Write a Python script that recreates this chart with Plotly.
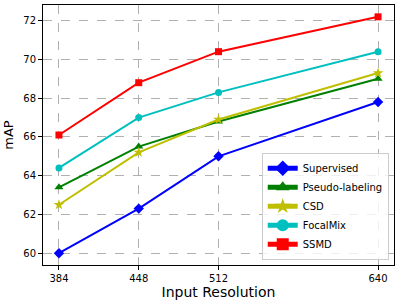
import plotly.graph_objects as go

resolutions = [384, 448, 512, 640]
series_names = ["Supervised", "Pseudo-labeling", "CSD", "FocalMix", "SSMD"]
supervised = [60.0, 62.3, 65.0, 67.8]
pseudo_labeling = [63.4, 65.5, 66.8, 69.0]
csd = [62.5, 65.2, 66.9, 69.3]
focalmix = [64.4, 67.0, 68.3, 70.4]
ssmd = [66.1, 68.8, 70.4, 72.2]
y_ticks = [60, 62, 64, 66, 68, 70, 72]

values = [supervised, pseudo_labeling, csd, focalmix, ssmd]
colors = ["#0000ff", "#008000", "#bfbf00", "#00bfbf", "#ff0000"]
symbols = ["diamond", "triangle-up", "star", "circle", "square"]
sizes = [8, 8, 8, 7, 7]

fig = go.Figure()
for name, v, c, s, sz in zip(series_names, values, colors, symbols, sizes):
    fig.add_trace(go.Scatter(x=resolutions, y=v, name=name, mode="lines+markers",
                             line=dict(color=c, width=2),
                             marker=dict(symbol=s, size=sz, color=c)))

axis_common = dict(showline=True, linecolor="black", linewidth=1, mirror=True,
                   ticks="outside", ticklen=4, tickcolor="black",
                   showgrid=True, gridcolor="#b0b0b0", griddash="dash", gridwidth=1,
                   zeroline=False, tickfont=dict(family="DejaVu Sans", size=10, color="black"))

fig.update_xaxes(range=[371.2, 652.8], tickvals=resolutions,
                 title=dict(text="Input Resolution", font=dict(family="DejaVu Sans", size=14, color="black"), standoff=2),
                 **axis_common)
fig.update_yaxes(range=[59.39, 72.81], tickvals=y_ticks,
                 title=dict(text="mAP", font=dict(family="DejaVu Sans", size=13, color="black"), standoff=6),
                 **axis_common)

fig.update_layout(width=399, height=300, margin=dict(l=43, r=5, t=4, b=34),
                  plot_bgcolor="white", paper_bgcolor="white",
                  legend=dict(x=0.985, y=0.02, xanchor="right", yanchor="bottom",
                              bgcolor="rgba(255,255,255,0.8)", bordercolor="#cccccc", borderwidth=1,
                              font=dict(family="DejaVu Sans", size=10, color="black"),
                              tracegroupgap=0, itemsizing="constant", itemwidth=30),
                  showlegend=True)

fig.write_html("out.html", config={"displayModeBar": False},
               post_script="document.body.style.margin='0';document.body.style.padding='0';")
